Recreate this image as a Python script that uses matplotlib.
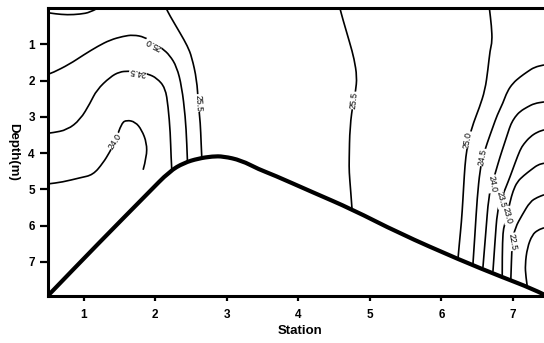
import matplotlib
matplotlib.use("Agg")
import matplotlib.pyplot as plt
from matplotlib.path import Path
from matplotlib.patches import PathPatch

# ---------------- data (station, depth in m) ----------------
station_ticks = [1, 2, 3, 4, 5, 6, 7]
depth_ticks = [1, 2, 3, 4, 5, 6, 7]

bottom_station = [0.5, 1.2, 1.9, 2.2, 2.4, 2.6, 2.8, 2.95, 3.2, 3.45, 3.65,
                  4.2, 4.75, 5.4, 6.25, 6.85, 7.27, 7.434]
bottom_depth = [7.93, 6.5, 5.1, 4.5, 4.27, 4.15, 4.09, 4.09, 4.2, 4.45, 4.6,
                5.08, 5.55, 6.2, 6.94, 7.42, 7.74, 7.9]

# isolines, western part
iso_top_west_st = [0.5, 0.6, 0.77, 0.95, 1.09, 1.18]
iso_top_west_d = [0.13, 0.16, 0.19, 0.17, 0.12, 0.02]

iso250_west_st = [0.5, 0.56, 0.8, 1.0, 1.2, 1.37, 1.55, 1.69, 1.85, 1.98, 2.1,
                  2.2, 2.3, 2.37, 2.42, 2.44, 2.45]
iso250_west_d = [1.82, 1.79, 1.55, 1.29, 1.05, 0.88, 0.78, 0.74, 0.8, 0.97, 1.12,
                 1.3, 1.62, 2.17, 3.0, 3.7, 4.25]

iso245_west_st = [0.5, 0.56, 0.77, 0.95, 1.09, 1.18, 1.37, 1.5, 1.62, 1.76, 1.9,
                  2.02, 2.14, 2.18, 2.21, 2.22, 2.23]
iso245_west_d = [3.45, 3.44, 3.36, 3.08, 2.62, 2.26, 1.9, 1.76, 1.74, 1.76, 1.82,
                 1.93, 2.2, 2.72, 3.44, 4.1, 4.45]

iso240_west_st = [0.5, 0.7, 0.95, 1.13, 1.27, 1.36, 1.44, 1.53, 1.6, 1.72, 1.81,
                  1.88, 1.88, 1.83]
iso240_west_d = [4.85, 4.8, 4.68, 4.6, 4.27, 3.98, 3.68, 3.17, 3.09, 3.14, 3.36,
                 3.72, 4.1, 4.46]

iso255_west_st = [2.15, 2.2, 2.35, 2.45, 2.51, 2.58, 2.6, 2.63, 2.64, 2.65]
iso255_west_d = [0.0, 0.2, 0.7, 1.05, 1.35, 1.98, 2.6, 3.18, 3.7, 4.13]

# isolines, middle
iso255_mid_st = [4.58, 4.62, 4.72, 4.78, 4.82, 4.8, 4.77, 4.72, 4.71, 4.71, 4.73, 4.75]
iso255_mid_d = [0.0, 0.3, 0.97, 1.4, 1.9, 2.3, 2.55, 3.27, 4.19, 4.52, 5.0, 5.54]

# isolines, eastern part
iso250_east_st = [6.67, 6.7, 6.71, 6.68, 6.65, 6.61, 6.53, 6.45, 6.38, 6.34,
                  6.32, 6.3, 6.28, 6.25, 6.23]
iso250_east_d = [0.0, 0.5, 0.92, 1.16, 1.7, 2.26, 2.75, 3.15, 3.62, 4.1,
                 4.6, 5.3, 5.9, 6.5, 6.95]

iso245_east_st = [7.434, 7.3, 7.2, 7.1, 7.0, 6.92, 6.86, 6.78, 6.72, 6.64, 6.58,
                  6.54, 6.5, 6.47, 6.44]
iso245_east_d = [1.57, 1.63, 1.76, 1.9, 2.07, 2.3, 2.62, 2.95, 3.28, 3.72, 4.1,
                 4.46, 5.23, 6.2, 7.08]

iso240_east_st = [7.434, 7.3, 7.2, 7.1, 7.03, 6.97, 6.93, 6.87, 6.82, 6.76, 6.71,
                  6.66, 6.62, 6.58]
iso240_east_d = [2.59, 2.63, 2.73, 2.85, 3.0, 3.2, 3.44, 3.8, 4.1, 4.5, 4.85,
                 5.2, 6.2, 7.16]

iso235_east_st = [7.434, 7.34, 7.24, 7.15, 7.1, 7.03, 6.96, 6.9, 6.83, 6.78, 6.75, 6.72]
iso235_east_d = [3.36, 3.42, 3.55, 3.75, 3.91, 4.27, 4.65, 4.95, 5.29, 5.62, 6.4, 7.27]

iso230_east_st = [7.434, 7.35, 7.26, 7.15, 7.06, 7.0, 6.96, 6.92, 6.88, 6.86, 6.85, 6.85]
iso230_east_d = [4.28, 4.32, 4.45, 4.62, 4.79, 5.05, 5.34, 5.7, 6.0, 6.17, 6.8, 7.4]

iso225_east_st = [7.434, 7.34, 7.24, 7.13, 7.03, 6.99, 6.98, 6.97]
iso225_east_d = [5.15, 5.22, 5.34, 5.7, 6.06, 6.45, 6.89, 7.5]

iso220_east_st = [7.434, 7.35, 7.27, 7.2, 7.17, 7.18, 7.2]
iso220_east_d = [6.06, 6.12, 6.25, 6.61, 7.08, 7.4, 7.68]

isolines = [
    (iso_top_west_st, iso_top_west_d),
    (iso250_west_st, iso250_west_d),
    (iso245_west_st, iso245_west_d),
    (iso240_west_st, iso240_west_d),
    (iso255_west_st, iso255_west_d),
    (iso255_mid_st, iso255_mid_d),
    (iso250_east_st, iso250_east_d),
    (iso245_east_st, iso245_east_d),
    (iso240_east_st, iso240_east_d),
    (iso235_east_st, iso235_east_d),
    (iso230_east_st, iso230_east_d),
    (iso225_east_st, iso225_east_d),
    (iso220_east_st, iso220_east_d),
]

label_texts = ["25.0", "24.5", "24.0", "25.5", "25.5",
               "25.0", "24.5", "24.0", "23.5", "23.0", "22.5"]

# label placement (station, depth, rotation) -- layout
label_layout = [
    (1.98, 0.99, 151), (1.76, 1.76, 170), (1.44, 3.68, 57), (2.6, 2.62, -87),
    (4.78, 2.55, 84),
    (6.37, 3.64, 80), (6.58, 4.12, 80), (6.71, 4.85, -80), (6.83, 5.29, -75),
    (6.92, 5.72, -75), (6.99, 6.45, -80),
]


def smooth_path(xs, ys):
    """Quadratic-Bezier path through the vertices (rendering only)."""
    pts = list(zip(xs, ys))
    verts = [pts[0]]
    codes = [Path.MOVETO]
    if len(pts) == 2:
        verts.append(pts[1])
        codes.append(Path.LINETO)
        return Path(verts, codes)
    first_mid = ((pts[0][0] + pts[1][0]) / 2, (pts[0][1] + pts[1][1]) / 2)
    verts.append(first_mid)
    codes.append(Path.LINETO)
    for i in range(1, len(pts) - 1):
        mid = ((pts[i][0] + pts[i + 1][0]) / 2, (pts[i][1] + pts[i + 1][1]) / 2)
        if i == len(pts) - 2:
            mid = pts[i + 1]
        verts += [pts[i], mid]
        codes += [Path.CURVE3, Path.CURVE3]
    return Path(verts, codes)


# ---------------- figure ----------------
fig = plt.figure(figsize=(5.44, 3.43), dpi=100)
ax = fig.add_axes([48 / 544, 47 / 343, (544 - 48) / 544, 288 / 343])

for st, d in isolines:
    ax.add_patch(PathPatch(smooth_path(st, d), facecolor="none",
                           edgecolor="black", lw=1.2, capstyle="butt", zorder=2))

for txt, (x, y, rot) in zip(label_texts, label_layout):
    ax.text(x, y, txt, rotation=rot, ha="center", va="center",
            fontsize=6.3, family="Liberation Sans", rotation_mode="anchor",
            bbox=dict(facecolor="white", edgecolor="none", pad=0.3), zorder=3)

ax.add_patch(PathPatch(smooth_path(bottom_station, bottom_depth), facecolor="none",
                       edgecolor="black", lw=3.0, capstyle="round",
                       joinstyle="round", zorder=4))

ax.set_xlim(0.5, 7.434)
ax.set_ylim(7.94, 0)
ax.set_xticks(station_ticks)
ax.set_yticks(depth_ticks)
ax.set_xticklabels([str(s) for s in station_ticks], fontsize=8.5,
                   fontweight="bold", family="Liberation Sans")
ax.set_yticklabels([str(d) for d in depth_ticks], fontsize=8.5,
                   fontweight="bold", family="Liberation Sans")
ax.tick_params(axis="x", direction="out", length=3.5, width=1.6, pad=6)
ax.tick_params(axis="y", direction="out", length=5.5, width=1.6, pad=4)

for side in ["top", "left", "bottom"]:
    ax.spines[side].set_linewidth(2.2)
ax.spines["right"].set_visible(False)

ax.set_xlabel("Station", fontsize=9.5, fontweight="bold", family="Liberation Sans",
              va="center", ha="center")
ax.xaxis.set_label_coords(0.508, -0.122)
ax.set_ylabel("Depth(m)", fontsize=9.5, fontweight="bold", family="Liberation Sans",
              rotation=270, va="center", ha="center")
ax.yaxis.set_label_coords(-0.071, 0.5)

fig.savefig("out.png", dpi=100)
